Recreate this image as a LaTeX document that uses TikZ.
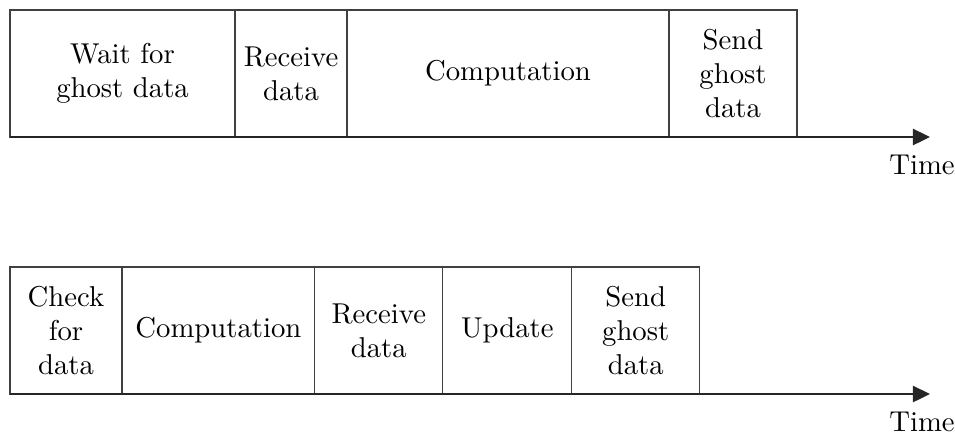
\documentclass[tikz,border=0pt]{standalone}
\usetikzlibrary{arrows.meta}
\begin{document}
\begin{tikzpicture}[x=0.3484pt,y=-0.3484pt,
  phase/.style={draw=black!75,line width=0.45pt,rectangle,inner sep=0pt,outer sep=0pt,
    anchor=north west,align=center,minimum height=44.25pt,font=\fontsize{10}{11.8}\selectfont},
  axis/.style={line width=1pt,draw=black!85,-{Triangle[length=6pt,width=5.6pt]}},
  timelbl/.style={font=\fontsize{10}{12}\selectfont}]
\useasboundingbox (0,0) rectangle (955,434);
% top row
\node[phase,minimum width=78.4pt] (a1) at (10,10) {Wait for\\ghost data};
\node[phase,minimum width=39.0pt] (a2) at (a1.north east) {Receive\\data};
\node[phase,minimum width=112.2pt] (a3) at (a2.north east) {Computation};
\node[phase,minimum width=44.6pt] (a4) at (a3.north east) {Send\\ghost\\data};
\coordinate (ea) at ([xshift=0pt]a1.south west -| 930,0);
\draw[axis] (a1.south west) -- (ea);
\node[timelbl] (ta) at (922,165) {Time};
% bottom row
\node[phase,minimum width=39.0pt] (b1) at (10,267) {Check\\for\\data};
\node[phase,minimum width=67.2pt] (b2) at (b1.north east) {Computation};
\node[phase,minimum width=44.6pt] (b3) at (b2.north east) {Receive\\data};
\node[phase,minimum width=44.9pt] (b4) at (b3.north east) {Update};
\node[phase,minimum width=44.6pt] (b5) at (b4.north east) {Send\\ghost\\data};
\coordinate (eb) at (b1.south west -| 930,0);
\draw[axis] (b1.south west) -- (eb);
\node[timelbl] (tb) at (922,422) {Time};
\end{tikzpicture}
\end{document}
